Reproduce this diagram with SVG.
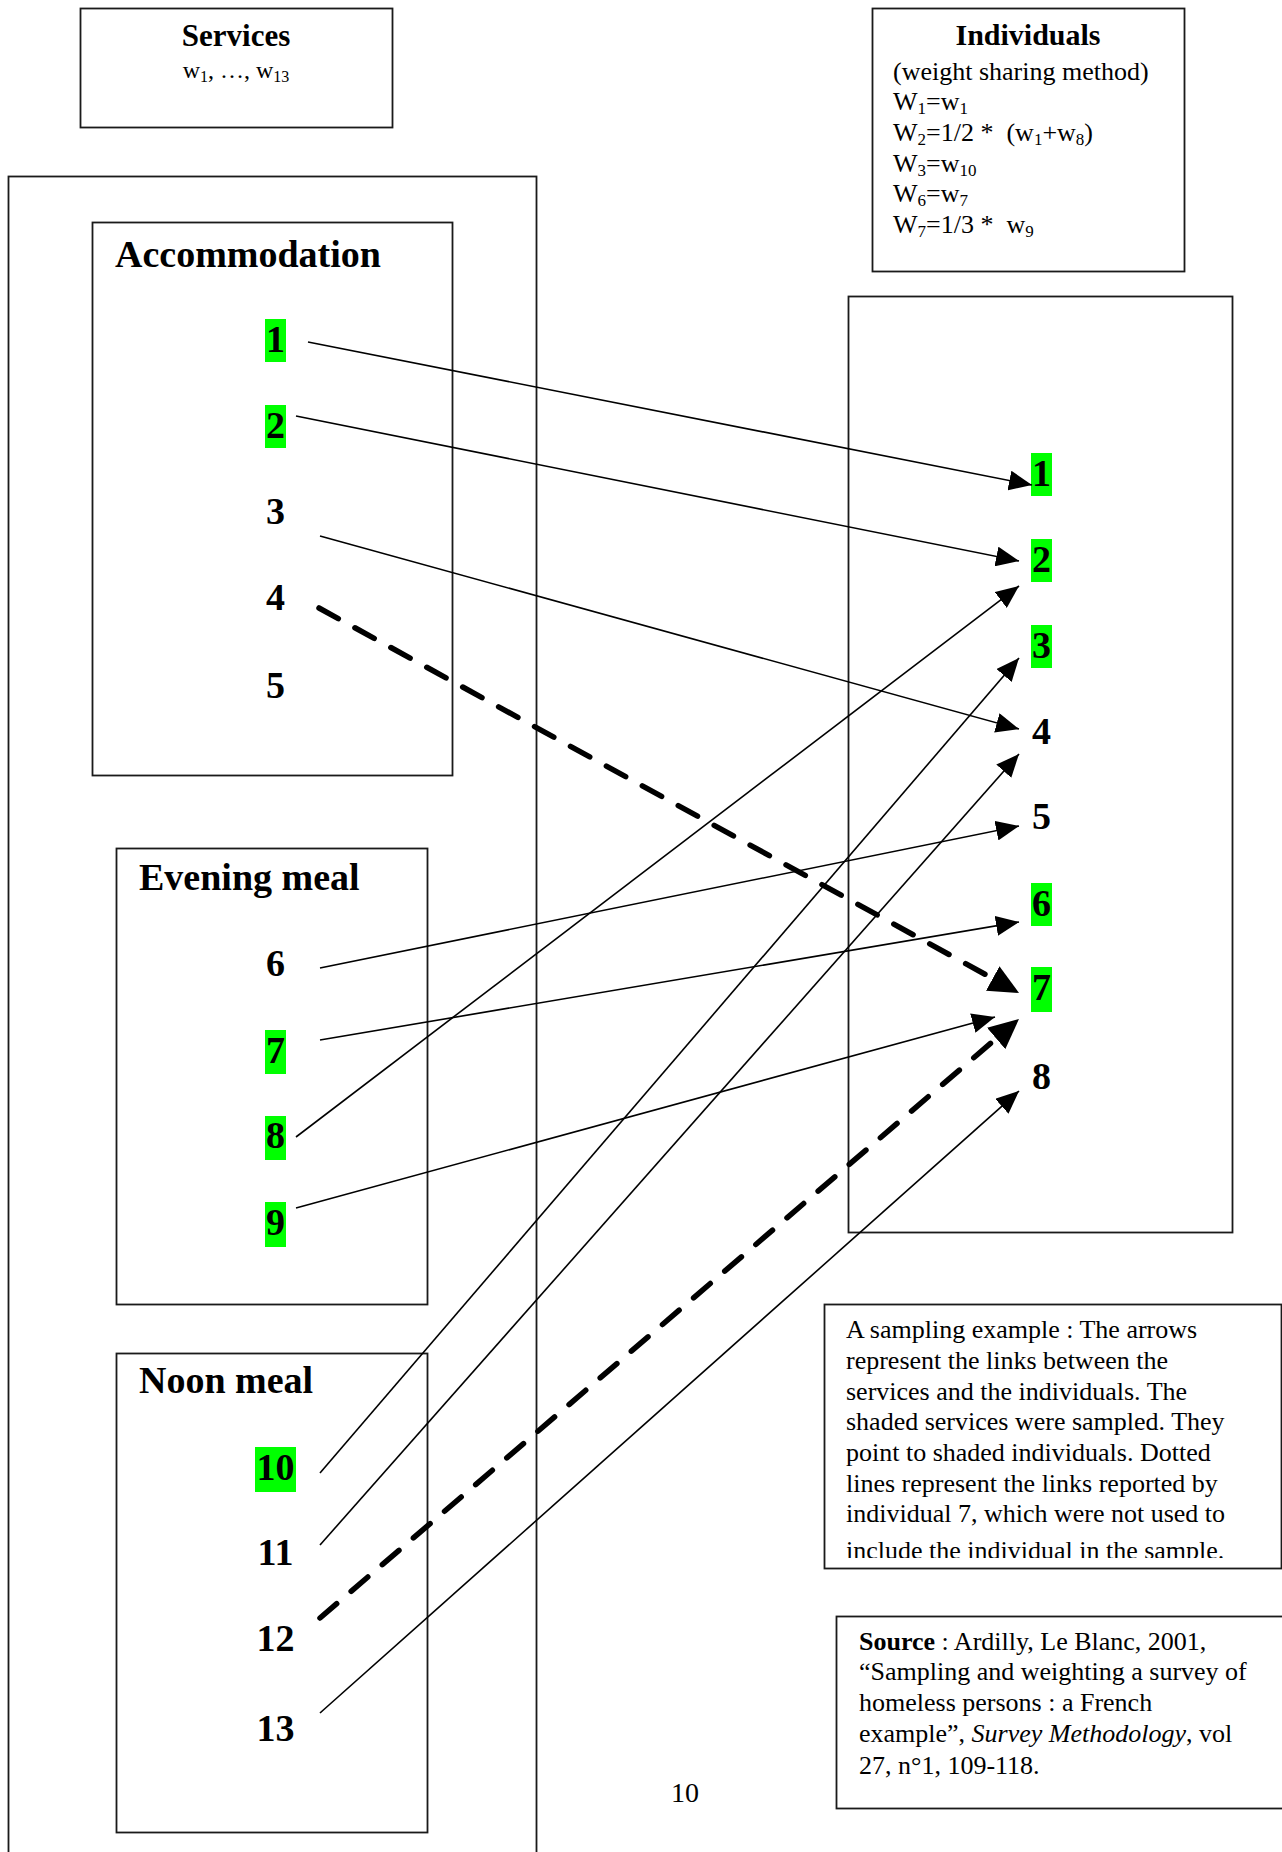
<svg xmlns="http://www.w3.org/2000/svg" width="1282" height="1852" viewBox="0 0 1282 1852">
<style>
  .box{fill:none;stroke:#1a1a1a;stroke-width:1.8}
  .hl{fill:#00ff00}
  .title{font-family:"Liberation Serif","Times New Roman",serif;font-weight:bold;font-size:38px;fill:#000}
  .num{font-family:"Liberation Serif","Times New Roman",serif;font-weight:bold;font-size:38px;fill:#000;text-anchor:middle}
  .body{font-family:"Liberation Serif","Times New Roman",serif;font-size:26px;fill:#000}
  .conn{stroke:#000;stroke-width:1.6;fill:none}
  .dash{stroke:#000;stroke-width:5.5;fill:none;stroke-dasharray:22 19;stroke-linecap:round}
</style>
<defs>
  <marker id="arr" viewBox="0 0 23 20" refX="23" refY="10" markerWidth="23" markerHeight="20" markerUnits="userSpaceOnUse" orient="auto">
    <path d="M0,0 L23,10 L0,20 Z" fill="#000"/>
  </marker>
  <marker id="arrD" viewBox="0 0 30 28" refX="0" refY="14" markerWidth="30" markerHeight="28" markerUnits="userSpaceOnUse" orient="auto">
    <path d="M0,0 L30,14 L0,28 Z" fill="#000"/>
  </marker>
  <clipPath id="noteClip"><rect x="824" y="1304" width="458" height="254"/></clipPath>
</defs>
<rect width="1282" height="1852" fill="#fff"/>

<g id="services-header">
  <rect class="box" x="80.5" y="8.5" width="312" height="119"/>
  <text x="236" y="46" text-anchor="middle" style="font-family:'Liberation Serif',serif;font-weight:bold;font-size:31px">Services</text>
  <text x="236" y="78" text-anchor="middle" style="font-family:'Liberation Serif',serif;font-size:24px">w<tspan dy="4" font-size="16">1</tspan><tspan dy="-4">, …, w</tspan><tspan dy="4" font-size="16">13</tspan></text>
</g>

<g id="individuals-header">
  <rect class="box" x="872.5" y="8.5" width="312" height="263"/>
  <text x="1028" y="45" text-anchor="middle" style="font-family:'Liberation Serif',serif;font-weight:bold;font-size:30px">Individuals</text>
  <text class="body" x="893" y="80">(weight sharing method)</text>
  <text class="body" x="893" y="110">W<tspan dy="4" font-size="17">1</tspan><tspan dy="-4">=w</tspan><tspan dy="4" font-size="17">1</tspan></text>
  <text class="body" x="893" y="141">W<tspan dy="4" font-size="17">2</tspan><tspan dy="-4">=1/2 *&#160; (w</tspan><tspan dy="4" font-size="17">1</tspan><tspan dy="-4">+w</tspan><tspan dy="4" font-size="17">8</tspan><tspan dy="-4">)</tspan></text>
  <text class="body" x="893" y="172">W<tspan dy="4" font-size="17">3</tspan><tspan dy="-4">=w</tspan><tspan dy="4" font-size="17">10</tspan></text>
  <text class="body" x="893" y="202">W<tspan dy="4" font-size="17">6</tspan><tspan dy="-4">=w</tspan><tspan dy="4" font-size="17">7</tspan></text>
  <text class="body" x="893" y="233">W<tspan dy="4" font-size="17">7</tspan><tspan dy="-4">=1/3 *&#160; w</tspan><tspan dy="4" font-size="17">9</tspan></text>
</g>

<g id="services-frame">
  <rect class="box" x="8.5" y="176.5" width="528" height="1700"/>
</g>

<g id="accommodation">
  <rect class="box" x="92.5" y="222.5" width="360" height="553"/>
  <text class="title" x="115" y="267">Accommodation</text>
  <g id="svc-1"><rect class="hl" x="265" y="319" width="21" height="43"/><text class="num" x="275.5" y="352">1</text></g>
  <g id="svc-2"><rect class="hl" x="265" y="405" width="21" height="43"/><text class="num" x="275.5" y="438">2</text></g>
  <g id="svc-3"><text class="num" x="275.5" y="524">3</text></g>
  <g id="svc-4"><text class="num" x="275.5" y="610">4</text></g>
  <g id="svc-5"><text class="num" x="275.5" y="698">5</text></g>
</g>

<g id="evening-meal">
  <rect class="box" x="116.5" y="848.5" width="311" height="456"/>
  <text class="title" x="139" y="890">Evening meal</text>
  <g id="svc-6"><text class="num" x="275.5" y="976">6</text></g>
  <g id="svc-7"><rect class="hl" x="265" y="1030" width="21" height="44"/><text class="num" x="275.5" y="1063">7</text></g>
  <g id="svc-8"><rect class="hl" x="265" y="1116" width="21" height="44"/><text class="num" x="275.5" y="1148">8</text></g>
  <g id="svc-9"><rect class="hl" x="265" y="1202" width="21" height="45"/><text class="num" x="275.5" y="1235">9</text></g>
</g>

<g id="noon-meal">
  <rect class="box" x="116.5" y="1353.5" width="311" height="479"/>
  <text class="title" x="139" y="1393">Noon meal</text>
  <g id="svc-10"><rect class="hl" x="255" y="1447" width="41" height="45"/><text class="num" x="275.5" y="1480">10</text></g>
  <g id="svc-11"><text class="num" x="275.5" y="1565">11</text></g>
  <g id="svc-12"><text class="num" x="275.5" y="1651">12</text></g>
  <g id="svc-13"><text class="num" x="275.5" y="1741">13</text></g>
</g>

<g id="individuals-frame">
  <rect class="box" x="848.5" y="296.5" width="384" height="936"/>
  <g id="ind-1"><rect class="hl" x="1031" y="453" width="21" height="43"/><text class="num" x="1041.5" y="486">1</text></g>
  <g id="ind-2"><rect class="hl" x="1031" y="539" width="21" height="43"/><text class="num" x="1041.5" y="572">2</text></g>
  <g id="ind-3"><rect class="hl" x="1031" y="625" width="21" height="43"/><text class="num" x="1041.5" y="658">3</text></g>
  <g id="ind-4"><text class="num" x="1041.5" y="744">4</text></g>
  <g id="ind-5"><text class="num" x="1041.5" y="829">5</text></g>
  <g id="ind-6"><rect class="hl" x="1031" y="883" width="21" height="43"/><text class="num" x="1041.5" y="916">6</text></g>
  <g id="ind-7"><rect class="hl" x="1031" y="967" width="21" height="45"/><text class="num" x="1041.5" y="1000">7</text></g>
  <g id="ind-8"><text class="num" x="1041.5" y="1089">8</text></g>
</g>

<g id="connectors">
  <line class="conn" x1="308" y1="342" x2="1032" y2="485" marker-end="url(#arr)"/>
  <line class="conn" x1="296" y1="416" x2="1019" y2="561" marker-end="url(#arr)"/>
  <line class="conn" x1="320" y1="536" x2="1019" y2="729" marker-end="url(#arr)"/>
  <line class="conn" x1="320" y1="968" x2="1019" y2="826" marker-end="url(#arr)"/>
  <line class="conn" x1="320" y1="1040" x2="1019" y2="922" marker-end="url(#arr)"/>
  <line class="conn" x1="296" y1="1137" x2="1019" y2="586" marker-end="url(#arr)"/>
  <line class="conn" x1="296" y1="1208" x2="995" y2="1017" marker-end="url(#arr)"/>
  <line class="conn" x1="320" y1="1473" x2="1019" y2="658" marker-end="url(#arr)"/>
  <line class="conn" x1="320" y1="1545" x2="1019" y2="754" marker-end="url(#arr)"/>
  <line class="conn" x1="320" y1="1713" x2="1019" y2="1091" marker-end="url(#arr)"/>
  <line class="dash" x1="319" y1="608" x2="992.7" y2="978.5" marker-end="url(#arrD)"/>
  <line class="dash" x1="320" y1="1618" x2="996.2" y2="1038.5" marker-end="url(#arrD)"/>
</g>

<g id="note">
  <rect class="box" x="824.5" y="1304.5" width="457" height="264"/>
  <g clip-path="url(#noteClip)">
    <text class="body" x="846" y="1338">A sampling example : The arrows</text>
    <text class="body" x="846" y="1369">represent the links between the</text>
    <text class="body" x="846" y="1400">services and the individuals. The</text>
    <text class="body" x="846" y="1430">shaded services were sampled. They</text>
    <text class="body" x="846" y="1461">point to shaded individuals. Dotted</text>
    <text class="body" x="846" y="1492">lines represent the links reported by</text>
    <text class="body" x="846" y="1522">individual 7, which were not used to</text>
    <text class="body" x="846" y="1559">include the individual in the sample.</text>
  </g>
</g>

<g id="source">
  <rect class="box" x="836.5" y="1616.5" width="470" height="192"/>
  <text class="body" x="859" y="1650" font-size="26.5"><tspan font-weight="bold">Source</tspan> : Ardilly, Le Blanc, 2001,</text>
  <text class="body" x="859" y="1680">“Sampling and weighting a survey of</text>
  <text class="body" x="859" y="1711">homeless persons : a French</text>
  <text class="body" x="859" y="1742">example”, <tspan font-style="italic">Survey Methodology</tspan>, vol</text>
  <text class="body" x="859" y="1774">27, n°1, 109-118.</text>
</g>

<g id="page-number">
  <text x="685" y="1802" text-anchor="middle" style="font-family:'Liberation Serif',serif;font-size:28px">10</text>
</g>
</svg>
